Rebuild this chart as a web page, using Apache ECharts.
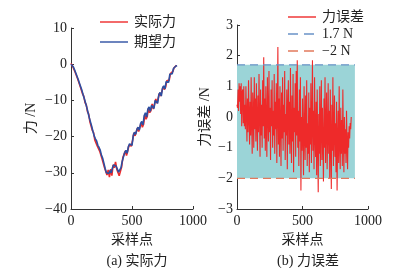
<!DOCTYPE html>
<html><head><meta charset="utf-8">
<script src="https://cdn.jsdelivr.net/npm/echarts@6/dist/echarts.min.js"></script>
<style>html,body{margin:0;padding:0;background:#fff}#c{width:393px;height:268px}</style>
</head><body><div id="c"></div>
<script>
// ---- data ----
const desiredX = [0,10,20,30,40,50,60,70,80,90,100,110,120,130,140,150,160,170,180,190,200,210,220,230,240,250,260,270,280,290,300,310,320,330,340,350,360,370,380,390,400,410,420,430,440,450,460,470,480,490,500,510,520,530,540,550,560,570,580,590,600,610,620,630,640,650,660,670,680,690,700,710,720,730,740,750,760,770,780,790,800,810,820,830,840,850,860,870];
const desiredY = [0,-0.3,-0.8,-1.6,-2.5,-3.4,-4.3,-5.3,-6.3,-7.3,-8.5,-9.6,-10.8,-12.0,-13.4,-14.8,-16.0,-17.2,-18.6,-19.8,-20.6,-21.2,-22.4,-23.0,-23.8,-25.2,-26.0,-27.4,-28.8,-30.0,-29.6,-30.2,-29.4,-30.0,-28.6,-27.8,-27.4,-28.2,-29.0,-29.8,-30.2,-28.6,-26.8,-25.6,-24.4,-23.8,-24.6,-22.8,-22.0,-21.6,-22.4,-19.8,-18.8,-19.4,-18.0,-17.4,-18.2,-16.4,-15.8,-16.8,-14.2,-13.4,-14.6,-12.4,-11.8,-13.0,-11.4,-11.0,-12.2,-10.0,-9.6,-10.8,-8.4,-7.8,-8.8,-6.6,-6.0,-6.8,-4.8,-4.4,-5.0,-2.8,-2.4,-2.6,-1.2,-0.9,-0.5,-0.4];
const actualX = [0,5,15,25,35,45,55,65,75,85,95,105,115,125,135,145,155,165,175,185,195,205,215,225,235,245,255,265,275,285,295,305,315,325,335,345,355,365,375,385,395,405,415,425,435,445,455,465,475,485,495,505,515,525,535,545,555,565,575,585,595,605,615,625,635,645,655,665,675,685,695,705,715,725,735,745,755,765,775,785,795,805,815,825,835,845,855,865];
const actualY = [0.2,0.1,-0.7,-1.0,-2.3,-2.8,-4.1,-4.6,-6.1,-6.6,-8.2,-8.9,-10.6,-11.2,-13.1,-13.8,-15.9,-16.2,-18.3,-18.9,-20.9,-20.4,-22.6,-22.3,-24.0,-24.1,-26.2,-26.3,-28.6,-29.0,-30.6,-29.2,-31.2,-29.0,-30.8,-27.8,-28.6,-27.0,-29.0,-29.2,-30.8,-29.6,-28.4,-25.8,-26.0,-24.0,-25.2,-24.0,-22.4,-22.8,-22.6,-21.0,-19.0,-19.8,-19.4,-17.6,-18.6,-18.8,-16.2,-17.4,-16.6,-14.0,-15.2,-14.4,-12.2,-13.4,-12.8,-11.0,-12.4,-12.4,-9.6,-10.8,-10.4,-8.0,-8.8,-8.6,-6.2,-7.0,-6.4,-4.6,-5.0,-4.4,-2.6,-3.0,-2.0,-1.0,-0.8,-0.3];
const errorX = [0,4,8,12,16,20,24,28,32,36,40,44,48,52,56,60,64,68,72,76,80,84,88,92,96,100,104,108,112,116,120,124,128,132,136,140,144,148,152,156,160,164,168,172,176,180,184,188,192,196,200,204,208,212,216,220,224,228,232,236,240,244,248,252,256,260,264,268,272,276,280,284,288,292,296,300,304,308,312,316,320,324,328,332,336,340,344,348,352,356,360,364,368,372,376,380,384,388,392,396,400,404,408,412,416,420,424,428,432,436,440,444,448,452,456,460,464,468,472,476,480,484,488,492,496,500,504,508,512,516,520,524,528,532,536,540,544,548,552,556,560,564,568,572,576,580,584,588,592,596,600,604,608,612,616,620,624,628,632,636,640,644,648,652,656,660,664,668,672,676,680,684,688,692,696,700,704,708,712,716,720,724,728,732,736,740,744,748,752,756,760,764,768,772,776,780,784,788,792,796,800,804,808,812,816,820,824,828,832,836,840,844,848,852,856,860,864,868,872];
const errorY = [0.4,0.3,0.9,0.2,1.1,0.5,1.0,0.1,1.1,-0.3,0.8,0.9,-0.2,1.0,-0.3,0.4,-0.4,1.0,0.1,-0.8,0.6,-0.5,1.2,0.0,-0.9,0.5,-0.6,1.3,-0.2,-1.2,0.8,0.2,-1.0,1.3,-0.4,0.6,-0.8,1.1,-0.1,-1.1,0.7,-0.5,1.4,0.0,-1.3,0.9,-0.6,0.4,-1.0,1.2,-0.3,1.95,-0.7,0.6,-1.1,1.0,-0.2,-1.3,1.3,0.1,-0.8,1.5,-0.5,0.3,-1.4,0.9,-0.3,1.2,-1.0,0.2,-0.6,1.4,-1.2,0.5,-0.4,1.1,-1.5,0.2,2.28,-0.9,0.6,-1.3,1.0,-0.2,-1.6,0.8,-0.7,1.3,-1.1,0.4,-0.5,1.5,-1.4,0.1,-0.6,0.9,-1.7,0.3,1.2,-0.9,0.5,-1.2,1.6,-0.4,-1.5,0.7,-0.8,1.4,-1.8,0.3,-0.5,1.1,-1.3,1.5,-0.6,1.85,-1.0,0.2,-1.6,0.9,-0.8,1.3,-2.4,0.0,-1.1,0.6,-0.7,-1.9,1.0,-0.5,-1.4,0.7,-1.0,1.2,-1.6,-0.2,-1.2,0.8,-1.8,0.3,-0.9,1.1,-1.5,-0.3,1.85,-1.1,0.2,-1.7,1.3,-0.6,-1.3,0.5,-1.9,0.9,-0.8,-2.45,0.1,-1.2,1.0,-1.6,-0.4,1.2,-1.4,0.3,-0.9,-2.1,0.6,-1.0,1.3,-1.5,-0.3,0.8,-1.7,-0.6,1.1,-1.2,0.2,-2.0,0.9,-0.8,-2.35,0.4,-1.1,1.3,-1.6,-0.5,0.7,-1.3,-0.2,-1.8,0.5,-2.4,-0.8,0.2,-1.5,1.0,-0.9,-1.7,0.3,-1.2,-0.1,-1.6,0.9,-0.7,-1.8,0.0,-1.2,-0.4,-1.5,0.2,-0.9,-1.7,-0.5,-1.0,-0.3,-0.7,-0.2,-0.4,0.0];
const upperBound = 1.7, lowerBound = -2, boundEndX = 900;
const leftYTicks = {min: -40, max: 10, interval: 10};
const rightYTicks = {min: -3, max: 3, interval: 1};
const xTicks = {min: 0, max: 1000, interval: 500};
const leftLegend = ['实际力', '期望力'];
const rightLegend = ['力误差', '1.7 N', '\u22122 N'];

const RED = '#ee2a2a', BLUE = '#2d4fa2', DBLUE = '#6a93c8', ORANGE = '#e27a5c', TEAL = '#9bd4d7';
const zip = (xs, ys) => xs.map((x, i) => [x, ys[i]]);
const FONT = '"Liberation Serif", "Noto Sans CJK SC", serif';
const minus = v => String(v).replace('-', '\u2212');
const axisCommon = {
  axisLine: {show: true, onZero: false, lineStyle: {color: '#333', width: 1}},
  axisTick: {show: true, inside: true, length: 3, lineStyle: {color: '#333'}},
  splitLine: {show: false},
  axisPointer: {show: false},
  axisLabel: {fontFamily: FONT, fontSize: 14, color: '#222', formatter: minus},
  nameTextStyle: {fontFamily: FONT, fontSize: 14, color: '#222'}
};
function legendItem(x1, x2, y, color, dash, label) {
  return [
    {type: 'line', shape: {x1: x1, y1: y, x2: x2, y2: y}, style: {stroke: color, lineWidth: 1.4, lineDash: dash}, silent: true, z: 100},
    {type: 'text', x: x2 + 6, y: y, style: {text: label, fill: '#222', font: '14px ' + FONT, textVerticalAlign: 'middle', verticalAlign: 'middle'}, silent: true, z: 100}
  ];
}
const chart = echarts.init(document.getElementById('c'), null, {renderer: 'canvas'});
chart.setOption({
  animation: false,
  textStyle: {fontFamily: FONT},
  grid: [
    {left: 71, top: 28, width: 122, height: 181},
    {left: 237, top: 25, width: 131, height: 184}
  ],
  title: [
    {text: '(a) 实际力', left: 132, top: 249, textAlign: 'center', textStyle: {fontFamily: FONT, fontSize: 14, fontWeight: 'normal', color: '#222'}},
    {text: '(b) 力误差', left: 303, top: 249, textAlign: 'center', textStyle: {fontFamily: FONT, fontSize: 14, fontWeight: 'normal', color: '#222'}}
  ],
  graphic: [].concat(
    legendItem(100, 128, 22, RED, null, leftLegend[0]),
    legendItem(100, 128, 42, BLUE, null, leftLegend[1]),
    legendItem(288, 316, 17, RED, null, rightLegend[0]),
    legendItem(288, 316, 34, DBLUE, [10, 6], rightLegend[1]),
    legendItem(288, 316, 51, ORANGE, [10, 6], rightLegend[2])
  ),
  xAxis: [
    Object.assign({}, axisCommon, {type: 'value', gridIndex: 0, min: xTicks.min, max: xTicks.max, interval: xTicks.interval,
      name: '采样点', nameLocation: 'middle', nameGap: 24, axisLabel: Object.assign({}, axisCommon.axisLabel, {margin: 5})}),
    Object.assign({}, axisCommon, {type: 'value', gridIndex: 1, min: xTicks.min, max: xTicks.max, interval: xTicks.interval,
      name: '采样点', nameLocation: 'middle', nameGap: 24, axisLabel: Object.assign({}, axisCommon.axisLabel, {margin: 5})})
  ],
  yAxis: [
    Object.assign({}, axisCommon, {type: 'value', gridIndex: 0, min: leftYTicks.min, max: leftYTicks.max, interval: leftYTicks.interval,
      name: '力 /N', nameLocation: 'middle', nameGap: 33, axisLabel: Object.assign({}, axisCommon.axisLabel, {margin: 4})}),
    Object.assign({}, axisCommon, {type: 'value', gridIndex: 1, min: rightYTicks.min, max: rightYTicks.max, interval: rightYTicks.interval,
      name: '力误差 /N', nameLocation: 'middle', nameGap: 25, axisLabel: Object.assign({}, axisCommon.axisLabel, {margin: 4})})
  ],
  series: [
    {name: '实际力', type: 'line', xAxisIndex: 0, yAxisIndex: 0, data: zip(actualX, actualY), symbol: 'none', showSymbol: false,
     lineStyle: {color: RED, width: 1.6}, itemStyle: {color: RED}},
    {name: '期望力', type: 'line', xAxisIndex: 0, yAxisIndex: 0, data: zip(desiredX, desiredY), symbol: 'none', showSymbol: false,
     lineStyle: {color: BLUE, width: 1.6}, itemStyle: {color: BLUE}},
    {name: '力误差', type: 'line', xAxisIndex: 1, yAxisIndex: 1, data: zip(errorX, errorY), symbol: 'none', showSymbol: false,
     lineStyle: {color: RED, width: 1.1}, itemStyle: {color: RED}, z: 3,
     markArea: {silent: true, label: {show: false}, itemStyle: {color: TEAL}, data: [[{xAxis: 0, yAxis: upperBound}, {xAxis: boundEndX, yAxis: lowerBound}]]}},
    {name: '1.7 N', type: 'line', xAxisIndex: 1, yAxisIndex: 1, data: [[0, upperBound], [boundEndX, upperBound]], symbol: 'none', showSymbol: false,
     lineStyle: {color: DBLUE, width: 1.2, type: [8, 5]}, itemStyle: {color: DBLUE}, z: 4},
    {name: '\u22122 N', type: 'line', xAxisIndex: 1, yAxisIndex: 1, data: [[0, lowerBound], [boundEndX, lowerBound]], symbol: 'none', showSymbol: false,
     lineStyle: {color: ORANGE, width: 1.2, type: [8, 5]}, itemStyle: {color: ORANGE}, z: 4}
  ]
});
</script></body></html>
